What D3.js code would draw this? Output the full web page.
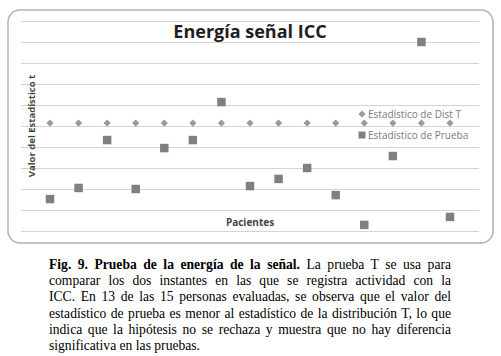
<!DOCTYPE html>
<html>
<head>
<meta charset="utf-8">
<script src="https://cdn.jsdelivr.net/npm/d3@7"></script>
<style>
  body { margin: 0; background: white; }
  svg { display: block; }
</style>
</head>
<body>
<div id="chart"></div>
<script>
// Data (grid units, bottom gridline = 0)
const pacientes = [1, 2, 3, 4, 5, 6, 7, 8, 9, 10, 11, 12, 13, 14, 15]
const distT = [5.14, 5.14, 5.14, 5.14, 5.14, 5.14, 5.14, 5.14, 5.14, 5.14, 5.14, 5.14, 5.14, 5.14, 5.14]
const prueba = [1.52, 2.05, 4.33, 2.0, 3.95, 4.33, 6.14, 2.14, 2.48, 3.0, 1.71, 0.29, 3.57, 9.0, 0.67]
const yTicks = [0, 1, 2, 3, 4, 5, 6, 7, 8, 9, 10]
const seriesNames = ["Estadístico de Dist T", "Estadístico de Prueba"]

const captionLines = [
    [["Fig. 9. Prueba de la energía de la señal.", true], [" La prueba T se usa para", false]],
    [["comparar los dos instantes en las que se registra actividad con la", false]],
    [["ICC. En 13 de las 15 personas evaluadas, se observa que el valor del", false]],
    [["estadístico de prueba es menor al estadístico de la distribución T, lo que", false]],
    [["indica que la hipótesis no se rechaza y muestra que no hay diferencia", false]],
    [["significativa en las pruebas.", false]]
]

const W = 501, H = 356
const svg = d3.select("#chart").append("svg")
    .attr("width", W)
    .attr("height", H)

// Chart frame (rounded box)
svg.append("rect")
    .attr("x", 8).attr("y", 10)
    .attr("width", 485).attr("height", 233)
    .attr("rx", 12)
    .attr("fill", "white")
    .attr("stroke", "#b3b3b3")
    .attr("stroke-width", 1.5)

// Scales
const plotLeft = 21, plotRight = 479
const x = d3.scaleLinear().domain([1, 15]).range([50, 450])
const y = d3.scaleLinear().domain([0, 10]).range([231, 21])

// Gridlines
svg.append("g")
    .attr("transform", "translate(" + plotLeft + ",0)")
    .call(d3.axisLeft(y).tickValues(yTicks).tickSize(-(plotRight - plotLeft)).tickFormat(""))
    .call(g => g.select(".domain").remove())
    .call(g => g.selectAll(".tick line").attr("stroke", "#d4d4d4").attr("stroke-width", 1))

// Title
svg.append("text")
    .attr("x", 250).attr("y", 38)
    .attr("text-anchor", "middle")
    .style("font-family", "'Open Sans', sans-serif")
    .style("font-weight", "bold")
    .style("font-size", "18px")
    .attr("fill", "#1e1e1e")
    .text("Energía señal ICC")

// Axis titles
svg.append("text")
    .attr("transform", "translate(35,126) rotate(-90)")
    .attr("text-anchor", "middle")
    .style("font-family", "'Open Sans', sans-serif")
    .style("font-weight", "bold")
    .style("font-size", "9.5px")
    .attr("fill", "#444")
    .text("Valor del Estadístico t")

svg.append("text")
    .attr("x", 250).attr("y", 226)
    .attr("text-anchor", "middle")
    .style("font-family", "'Open Sans', sans-serif")
    .style("font-weight", "bold")
    .style("font-size", "10px")
    .attr("fill", "#444")
    .text("Pacientes")

// Markers
const diamond = d3.symbol(d3.symbolSquare, 26)
const square = d3.symbol(d3.symbolSquare, 72)

svg.append("g").selectAll("path")
    .data(pacientes)
    .enter()
    .append("path")
    .attr("d", diamond)
    .attr("transform", (d, i) => "translate(" + x(d) + "," + y(distT[i]) + ") rotate(45)")
    .attr("fill", "#9a9a9a")

svg.append("g").selectAll("path")
    .data(pacientes)
    .enter()
    .append("path")
    .attr("d", square)
    .attr("transform", (d, i) => "translate(" + x(d) + "," + y(prueba[i]) + ")")
    .attr("fill", "#808080")

// Legend
const legend = svg.append("g")
legend.append("path")
    .attr("d", diamond)
    .attr("transform", "translate(362,114) rotate(45)")
    .attr("fill", "#9a9a9a")
legend.append("path")
    .attr("d", d3.symbol(d3.symbolSquare, 49))
    .attr("transform", "translate(362,135)")
    .attr("fill", "#808080")
legend.selectAll("text")
    .data(seriesNames)
    .enter()
    .append("text")
    .attr("x", 368)
    .attr("y", (d, i) => 118 + i * 21)
    .style("font-family", "'Open Sans', sans-serif")
    .style("font-size", "10px")
    .attr("fill", "#7a7a7a")
    .text(d => d)

// Caption, justified line by line
const capLeft = 49, capWidth = 402
const cap = svg.append("g")
captionLines.forEach((parts, i) => {
    const t = cap.append("text")
        .attr("x", capLeft)
        .attr("y", 269 + i * 16.2)
        .style("font-family", "'Liberation Serif', 'Times New Roman', serif")
        .style("font-size", "13.6px")
        .attr("fill", "#000")
    parts.forEach(p => {
        t.append("tspan")
            .style("font-weight", p[1] ? "bold" : "normal")
            .text(p[0])
    })
    // stretch word spacing, except on the last line
    if (i < captionLines.length - 1) {
        const natural = t.node().getComputedTextLength()
        const spaces = parts.map(p => p[0]).join("").split(" ").length - 1
        t.attr("word-spacing", (capWidth - natural) / spaces)
    }
})
</script>
</body>
</html>
